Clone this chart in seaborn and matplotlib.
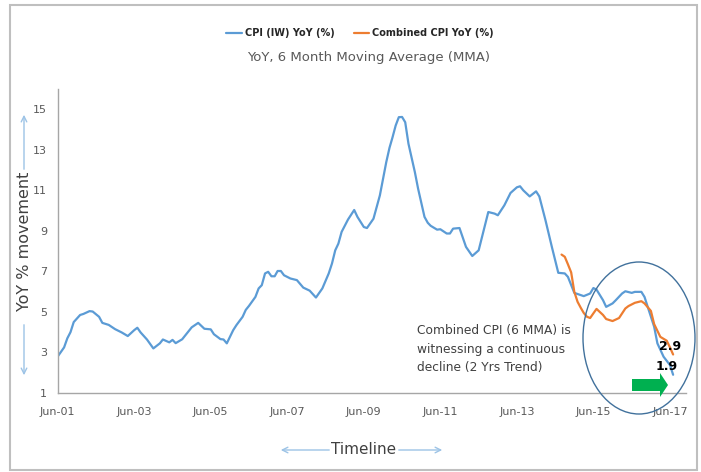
import matplotlib
matplotlib.use("Agg")
import matplotlib.pyplot as plt
import matplotlib.dates as mdates
from matplotlib.patches import Ellipse, Polygon, Rectangle
from matplotlib.lines import Line2D
import seaborn as sns
import pandas as pd

# ---- data (month offsets from Jun-2001, YoY %, 6MMA) ----
cpi_iw_month = [0, 2, 3, 4, 5, 7, 8, 10, 11, 13, 14, 16, 18, 20, 22, 24, 25, 26, 28, 30,
                32, 33, 35, 36, 37, 39, 41, 42, 44, 46, 48, 49, 51, 52, 53, 55, 56, 58, 59, 60,
                62, 63, 64, 65, 66, 67, 68, 69, 70, 71, 73, 75, 77, 79, 81, 83, 85, 86, 87, 88,
                89, 91, 93, 94, 95, 96, 97, 99, 101, 103, 104, 105, 106, 107, 108, 109, 110, 112, 113, 115,
                116, 117, 119, 120, 122, 123, 124, 126, 128, 130, 132, 134, 135, 137, 138, 140, 142, 144, 145, 146,
                148, 150, 151, 153, 155, 157, 159, 160, 162, 164, 165, 167, 168, 169, 171, 172, 174, 175, 177, 178,
                180, 181, 183, 184, 185, 187, 188, 190, 192, 193]
cpi_iw_val = [2.8, 3.25, 3.7, 4.0, 4.5, 4.85, 4.9, 5.04, 5.02, 4.76, 4.46, 4.36, 4.15, 3.99, 3.81, 4.10, 4.22, 3.99, 3.64, 3.20,
              3.45, 3.64, 3.5, 3.62, 3.46, 3.65, 4.05, 4.24, 4.46, 4.17, 4.14, 3.9, 3.66, 3.64, 3.45, 4.10, 4.35, 4.76, 5.1, 5.3,
              5.74, 6.16, 6.32, 6.9, 6.98, 6.76, 6.76, 7.02, 7.02, 6.81, 6.65, 6.57, 6.2, 6.05, 5.71, 6.16, 6.90, 7.39, 8.04, 8.37,
              8.95, 9.56, 10.03, 9.69, 9.44, 9.19, 9.14, 9.6, 10.75, 12.39, 13.1, 13.6, 14.2, 14.61, 14.62, 14.36, 13.3, 11.9, 11.08, 9.69,
              9.4, 9.25, 9.06, 9.08, 8.87, 8.87, 9.11, 9.14, 8.21, 7.76, 8.04, 9.28, 9.93, 9.85, 9.77, 10.26, 10.87, 11.15, 11.2, 11.0,
              10.7, 10.95, 10.7, 9.52, 8.2, 6.93, 6.90, 6.73, 5.94, 5.83, 5.78, 5.91, 6.18, 6.1, 5.58, 5.25, 5.42, 5.58, 5.91, 6.02,
              5.94, 5.99, 5.99, 5.74, 5.25, 4.27, 3.45, 2.79, 2.38, 1.9]

combined_month = [158, 159, 160, 161, 162, 163, 164, 165, 166, 167, 168, 169, 170, 171, 172, 174, 176, 178, 179, 181,
                  183, 184, 186, 187, 189, 191, 192, 193]
combined_val = [7.83, 7.72, 7.35, 6.95, 5.99, 5.5, 5.2, 4.95, 4.76, 4.7, 4.93, 5.15, 5.0, 4.85, 4.65, 4.55, 4.7, 5.17, 5.29, 5.45,
                5.53, 5.42, 5.05, 4.4, 3.77, 3.58, 3.25, 2.9]

series_names = ["CPI (IW) YoY (%)", "Combined CPI YoY (%)"]
series_colors = ["#5B9BD5", "#ED7D31"]
end_labels = ["2.9", "1.9"]
y_ticks = [1, 3, 5, 7, 9, 11, 13, 15]
x_tick_years = list(range(2001, 2018, 2))

base = pd.Timestamp("2001-06-01")
def to_date(m):
    return base + pd.DateOffset(months=int(m))

df = pd.concat([
    pd.DataFrame({"date": [to_date(m) for m in cpi_iw_month], "value": cpi_iw_val, "series": series_names[0]}),
    pd.DataFrame({"date": [to_date(m) for m in combined_month], "value": combined_val, "series": series_names[1]}),
])

sns.set_style("white")
plt.rcParams["font.family"] = ["DejaVu Sans"]

W, H = 701, 472
fig = plt.figure(figsize=(W / 100, H / 100), dpi=100)

def fx(x):
    return x / W
def fy(y):
    return 1 - y / H

ax = fig.add_axes([fx(57.7), fy(393), fx(686) - fx(57.7), fy(89) - fy(393)])

sns.lineplot(data=df, x="date", y="value", hue="series", palette=dict(zip(series_names, series_colors)),
             linewidth=1.6, ax=ax, legend=False, estimator=None)

ax.set_ylim(1, 16)
ax.set_yticks(y_ticks)
ax.set_xlim(base, to_date(197))
ax.set_xticks([pd.Timestamp(f"{y}-06-01") for y in x_tick_years])
ax.xaxis.set_major_formatter(mdates.DateFormatter("Jun-%y"))
ax.set_xlabel("")
ax.set_ylabel("")
for s in ["top", "right"]:
    ax.spines[s].set_visible(False)
for s in ["left", "bottom"]:
    ax.spines[s].set_color("#A6A6A6")
    ax.spines[s].set_linewidth(1.0)
ax.tick_params(axis="both", colors="#A6A6A6", labelcolor="#595959", labelsize=8, length=4, width=1, direction="out")
ax.tick_params(axis="x", pad=6)

# end labels
ax.text(to_date(192), 3.27, end_labels[0], fontsize=9, fontweight="bold", ha="center", va="center", color="black")
ax.text(to_date(191.6), 2.33, end_labels[1], fontsize=9, fontweight="bold", ha="center", va="center", color="black")

# annotation text
fig.text(fx(417), fy(324), "Combined CPI (6 MMA) is\nwitnessing a continuous\ndecline (2 Yrs Trend)",
         fontsize=8.8, color="#404040", ha="left", va="top", linespacing=1.55)

# ellipse highlight
fig.patches.append(Ellipse((fx(639), fy(338)), 112 / W, 152 / H, transform=fig.transFigure,
                           fill=False, edgecolor="#41719C", linewidth=1.0))

# green arrow
arrow_pts = [(632, 379), (660, 379), (660, 373), (668, 385), (660, 397), (660, 391), (632, 391)]
fig.patches.append(Polygon([(fx(x), fy(y)) for x, y in arrow_pts], closed=True, transform=fig.transFigure,
                           facecolor="#00B050", edgecolor="none"))

# outer border
fig.patches.append(Rectangle((fx(10), fy(470)), fx(697) - fx(10), fy(5) - fy(470), transform=fig.transFigure,
                             fill=False, edgecolor="#BFBFBF", linewidth=1.5))

# legend
handles = [Line2D([], [], color=c, linewidth=1.6) for c in series_colors]
fig.legend(handles, series_names, loc="center", bbox_to_anchor=(fx(360), fy(33)), ncol=2, frameon=False,
           prop={"size": 7, "weight": "bold"}, handlelength=1.6, handletextpad=0.3, columnspacing=2.0)

# title
fig.text(fx(369), fy(57), "YoY, 6 Month Moving Average (MMA)", fontsize=9.5, color="#595959", ha="center", va="center")

# y-axis label with arrows
fig.text(fx(25), fy(241), "YoY % movement", fontsize=11.5, color="#404040", rotation=90, ha="center", va="center")
arrow_kw = dict(arrowstyle="->", color="#9DC3E6", linewidth=1.0)
ax.annotate("", xy=(fx(24), fy(112)), xytext=(fx(24), fy(172)), xycoords="figure fraction",
            textcoords="figure fraction", arrowprops=arrow_kw, annotation_clip=False)
ax.annotate("", xy=(fx(24), fy(378)), xytext=(fx(24), fy(322)), xycoords="figure fraction",
            textcoords="figure fraction", arrowprops=arrow_kw, annotation_clip=False)

# x-axis label with arrows
fig.text(fx(364), fy(450), "Timeline", fontsize=11, color="#404040", ha="center", va="center")
ax.annotate("", xy=(fx(278), fy(450)), xytext=(fx(332), fy(450)), xycoords="figure fraction",
            textcoords="figure fraction", arrowprops=arrow_kw, annotation_clip=False)
ax.annotate("", xy=(fx(445), fy(450)), xytext=(fx(396), fy(450)), xycoords="figure fraction",
            textcoords="figure fraction", arrowprops=arrow_kw, annotation_clip=False)

fig.savefig("out.png", dpi=100)
